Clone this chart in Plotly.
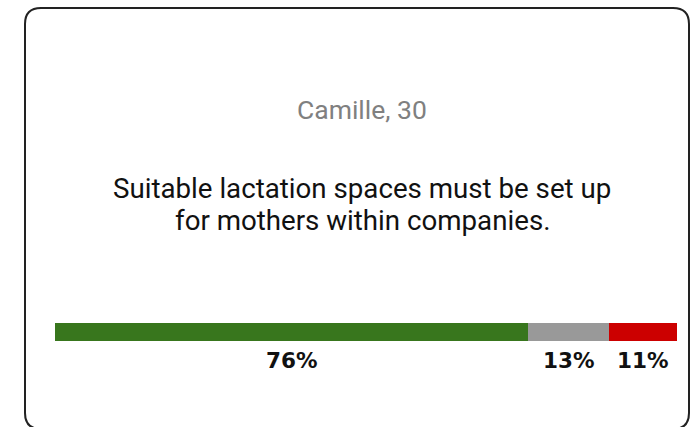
import plotly.graph_objects as go

categories = ["Agree", "Neutral", "Disagree"]
values = [76, 13, 11]
colors = ["#38761d", "#999999", "#cc0000"]
labels = ["76%", "13%", "11%"]
person = "Camille, 30"
statement_lines = ["Suitable lactation spaces must be set up", "for mothers within companies."]

W, H = 695, 427

fig = go.Figure()
for cat, v, c in zip(categories, values, colors):
    fig.add_trace(go.Bar(x=[v], y=[0], orientation="h", name=cat,
                         marker=dict(color=c, line=dict(width=0)),
                         width=1, hoverinfo="skip"))

# card outline (pixel-sized path anchored at top-left of paper)
L, T, R, B, r = 25, 8, 689, 429, 16
path = (f"M {L+r},{-T} L {R-r},{-T} Q {R},{-T} {R},{-(T+r)} "
        f"L {R},{-(B-r)} Q {R},{-B} {R-r},{-B} L {L+r},{-B} "
        f"Q {L},{-B} {L},{-(B-r)} L {L},{-(T+r)} Q {L},{-T} {L+r},{-T} Z")
fig.add_shape(type="path", path=path, xref="paper", yref="paper",
              xsizemode="pixel", ysizemode="pixel", xanchor=0, yanchor=1,
              line=dict(color="#222222", width=2), fillcolor="rgba(0,0,0,0)", layer="below")

annotations = []
annotations.append(dict(text=person, x=362 / W, y=1 - 109 / H, xref="paper", yref="paper",
                        showarrow=False, xanchor="center", yanchor="middle",
                        font=dict(family="Roboto", size=26.5, color="#808080")))
for i, line in enumerate(statement_lines):
    annotations.append(dict(text=line, x=362 / W, y=1 - (188 + 32.5 * i) / H, xref="paper", yref="paper",
                            showarrow=False, xanchor="center", yanchor="middle",
                            font=dict(family="Roboto", size=27.7, color="#111111")))
cum = 0
for v, lab in zip(values, labels):
    annotations.append(dict(text=f"<b>{lab}</b>", x=cum + v / 2, xref="x", y=1 - 360.5 / H, yref="paper",
                            showarrow=False, xanchor="center", yanchor="middle",
                            font=dict(family="DejaVu Sans", size=21.5, color="#111111")))
    cum += v

fig.update_layout(
    width=W, height=H, barmode="stack", showlegend=False,
    margin=dict(l=0, r=0, t=0, b=0),
    paper_bgcolor="white", plot_bgcolor="white",
    xaxis=dict(domain=[55 / W, 677 / W], range=[0, sum(values)], visible=False, fixedrange=True),
    yaxis=dict(domain=[1 - 341 / H, 1 - 323 / H], range=[-0.5, 0.5], visible=False, fixedrange=True),
    annotations=annotations,
)

fig.write_html("out.html", config={"displayModeBar": False, "staticPlot": True},
               post_script="document.body.style.margin='0';document.body.style.overflow='hidden';")
